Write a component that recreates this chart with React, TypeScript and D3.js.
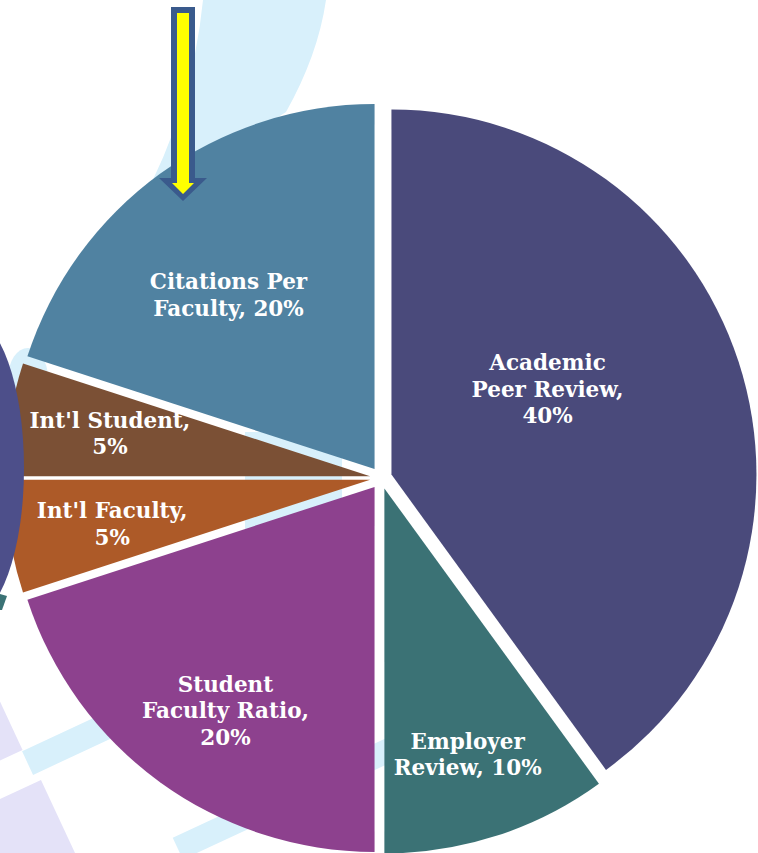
import React from "react";
import * as d3 from "d3";

const categories = [
  "Academic Peer Review",
  "Employer Review",
  "Student Faculty Ratio",
  "Int'l Faculty",
  "Int'l Student",
  "Citations Per Faculty",
];
const values = [40, 10, 20, 5, 5, 20];
const labelLines = [
  ["Academic", "Peer Review,", "40%"],
  ["Employer", "Review, 10%"],
  ["Student", "Faculty Ratio,", "20%"],
  ["Int'l Faculty,", "5%"],
  ["Int'l Student,", "5%"],
  ["Citations Per", "Faculty, 20%"],
];
const colors = ["#4a4a7b", "#3b7275", "#8d418e", "#ad5a28", "#7b5035", "#5082a1"];
// label placement: fraction of radius and angular nudge (degrees)
const labelRadiusFrac = [0.48, 0.78, 0.75, 0.72, 0.72, 0.61];
const labelAngleNudge = [-9, 1, -3, -2, -1, -5];

const W = 758;
const H = 853;
const CX = 381;
const CY = 478;
const R = 365;
const EXPLODE = 11;
const FONT = 21.5;
const LINE = 26.5;

export default function App() {
  const pie = d3
    .pie<number>()
    .sort(null)
    .value((d) => d)
    .startAngle(0)
    .endAngle(2 * Math.PI);
  const arcs = pie(values);
  const arc = d3.arc<d3.PieArcDatum<number>>().innerRadius(0).outerRadius(R);

  const lav = "#e4e2f8";
  const lblue = "#d8f0fb";

  return (
    <svg
      width={W}
      height={H}
      viewBox={`0 0 ${W} ${H}`}
      style={{ position: "absolute", left: 0, top: 0, display: "block", background: "#ffffff" }}
    >
      {/* background decorations */}
      <g>
        <path d="M203,0 L326,0 Q318,55 286,112 L140,205 Q192,110 203,0 Z" fill={lblue} />
        <path d="M245,432 L342,432 L342,540 L245,540 Z" fill={lblue} />
        <ellipse cx={28} cy={378} rx={20} ry={30} fill={lblue} />
        <g transform="translate(28,764) rotate(-25)">
          <rect x={-150} y={-90} width={151} height={75} fill={lav} />
          <rect x={0} y={-14} width={300} height={26} fill={lblue} />
          <rect x={-150} y={20} width={155} height={200} fill={lav} />
          <rect x={100} y={128} width={250} height={24} fill={lblue} />
        </g>
      </g>

      {arcs.map((a, i) => {
        const mid = (a.startAngle + a.endAngle) / 2;
        const dx = EXPLODE * Math.sin(mid);
        const dy = -EXPLODE * Math.cos(mid);
        const la = mid + (labelAngleNudge[i] * Math.PI) / 180;
        const lr = labelRadiusFrac[i] * R;
        const lx = lr * Math.sin(la);
        const ly = -lr * Math.cos(la);
        const lines = labelLines[i];
        const y0 = ly - ((lines.length - 1) * LINE) / 2 + FONT * 0.35 - 6;
        return (
          <g key={categories[i]} transform={`translate(${CX + dx},${CY + dy})`}>
            <path d={arc(a) || ""} fill={colors[i]} />
            <text
              textAnchor="middle"
              fill="#ffffff"
              fontFamily="'DejaVu Serif', Georgia, serif"
              fontWeight="bold"
              fontSize={FONT}
            >
              {lines.map((t, j) => (
                <tspan key={j} x={lx} y={y0 + j * LINE}>
                  {t}
                </tspan>
              ))}
            </text>
          </g>
        );
      })}

      {/* navy ellipse at left */}
      <ellipse cx={-30} cy={468} rx={54} ry={150} fill="#4d4f8a" />
      <path d="M0,594 L7,596 L2,610 L0,610 Z" fill="#3b7275" />

      {/* arrow */}
      <path
        d="M171,7 L195,7 L195,178 L207,178 L183,201 L159,178 L171,178 Z"
        fill="#3a5a8c"
      />
      <path
        d="M177,13 L189,13 L189,183 L194,183 L183,194 L172,183 L177,183 Z"
        fill="#ffff00"
      />
    </svg>
  );
}
